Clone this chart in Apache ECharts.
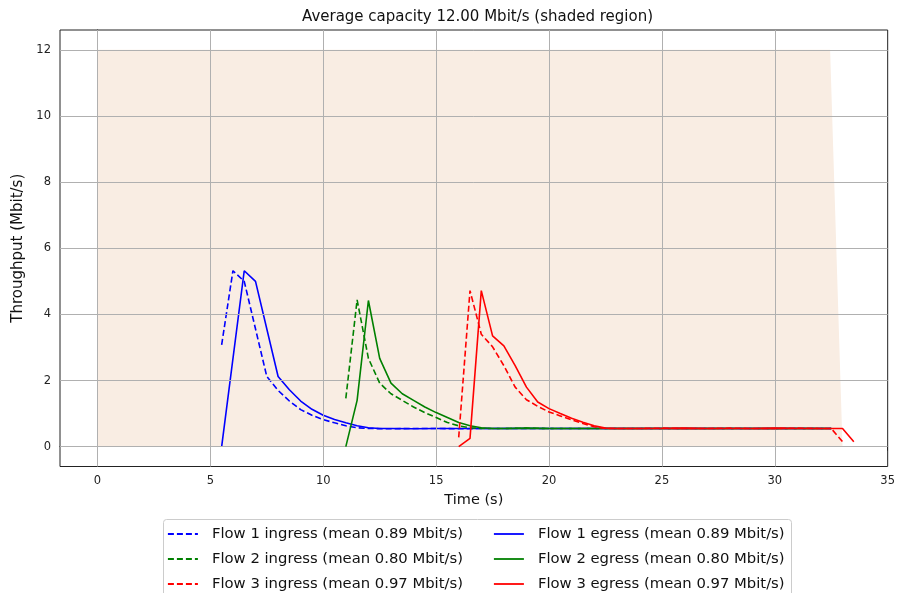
<!DOCTYPE html>
<html>
<head>
<meta charset="utf-8">
<script src="https://cdn.jsdelivr.net/npm/echarts@6/dist/echarts.min.js"></script>
<style>html,body{margin:0;padding:0;background:#fff;}#c{width:898px;height:593px;}</style>
</head>
<body>
<div id="c"></div>
<script>
const titleText = 'Average capacity 12.00 Mbit/s (shaded region)';
const xName = 'Time (s)';
const yName = 'Throughput (Mbit/s)';

const capT = [0, 32.45, 33.0];
const capV = [12, 12, 0];

const f1InT = [5.5, 6.0, 6.5, 7.5, 8.0, 8.5, 9.0, 9.5, 10.0, 10.5, 11.0, 11.5, 12.0, 13, 14, 15, 16, 17, 18, 19, 20, 21, 22, 23, 24, 25, 26, 27, 28, 29, 30, 31, 32, 32.5];
const f1InV = [3.08, 5.32, 5.0, 2.12, 1.7, 1.38, 1.12, 0.95, 0.82, 0.72, 0.63, 0.57, 0.55, 0.54, 0.55, 0.55, 0.54, 0.55, 0.55, 0.55, 0.55, 0.55, 0.55, 0.55, 0.55, 0.55, 0.55, 0.55, 0.55, 0.55, 0.55, 0.55, 0.55, 0.55];
const f1EgT = [5.5, 6.5, 7.0, 8.0, 8.5, 9.0, 9.5, 10.0, 10.5, 11.0, 11.5, 12.0, 12.5, 13, 14, 15, 16, 17, 18, 19, 20, 21, 22, 23, 24, 25, 26, 27, 28, 29, 30, 31, 32, 32.5];
const f1EgV = [0, 5.32, 5.0, 2.12, 1.72, 1.38, 1.13, 0.95, 0.82, 0.72, 0.63, 0.57, 0.55, 0.55, 0.54, 0.55, 0.55, 0.55, 0.55, 0.55, 0.55, 0.55, 0.55, 0.55, 0.55, 0.55, 0.55, 0.55, 0.55, 0.55, 0.55, 0.55, 0.55, 0.55];

const f2InT = [11.0, 11.5, 12.0, 12.5, 13.0, 13.5, 14.0, 14.5, 15.0, 15.5, 16.0, 16.5, 17.0, 18, 19, 20, 21, 22, 23, 24, 25, 26, 27, 28, 29, 30, 31, 32, 32.5];
const f2InV = [1.46, 4.44, 2.67, 1.92, 1.6, 1.4, 1.2, 1.03, 0.88, 0.73, 0.63, 0.57, 0.55, 0.55, 0.56, 0.55, 0.55, 0.55, 0.55, 0.55, 0.55, 0.55, 0.55, 0.55, 0.55, 0.55, 0.55, 0.55, 0.55];
const f2EgT = [11.0, 11.5, 12.0, 12.5, 13.0, 13.5, 14.0, 14.5, 15.0, 15.5, 16.0, 16.5, 17.0, 17.5, 18, 19, 20, 21, 22, 23, 24, 25, 26, 27, 28, 29, 30, 31, 32, 32.5];
const f2EgV = [0, 1.4, 4.42, 2.67, 1.92, 1.6, 1.4, 1.2, 1.03, 0.88, 0.73, 0.63, 0.57, 0.55, 0.55, 0.56, 0.55, 0.55, 0.55, 0.55, 0.55, 0.55, 0.55, 0.55, 0.55, 0.55, 0.55, 0.55, 0.55, 0.55];

const f3InT = [16.0, 16.5, 17.0, 17.5, 18.0, 18.5, 19.0, 19.5, 20.0, 20.5, 21.0, 21.5, 22.0, 22.5, 23, 24, 25, 26, 27, 28, 29, 30, 31, 32, 32.5, 33.0];
const f3InV = [0.28, 4.72, 3.4, 3.02, 2.45, 1.8, 1.42, 1.22, 1.05, 0.93, 0.81, 0.7, 0.6, 0.55, 0.55, 0.55, 0.56, 0.55, 0.55, 0.56, 0.55, 0.55, 0.56, 0.55, 0.55, 0.15];
const f3EgT = [16.0, 16.5, 17.0, 17.5, 18.0, 18.5, 19.0, 19.5, 20.0, 20.5, 21.0, 21.5, 22.0, 22.5, 23, 24, 25, 26, 27, 28, 29, 30, 31, 32, 33.0, 33.5];
const f3EgV = [0, 0.25, 4.72, 3.35, 3.05, 2.45, 1.8, 1.35, 1.15, 1.0, 0.86, 0.74, 0.63, 0.56, 0.55, 0.55, 0.55, 0.56, 0.55, 0.55, 0.55, 0.56, 0.55, 0.55, 0.55, 0.15];

const ingressNames = ['Flow 1 ingress (mean 0.89 Mbit/s)', 'Flow 2 ingress (mean 0.80 Mbit/s)', 'Flow 3 ingress (mean 0.97 Mbit/s)'];
const egressNames = ['Flow 1 egress (mean 0.89 Mbit/s)', 'Flow 2 egress (mean 0.80 Mbit/s)', 'Flow 3 egress (mean 0.97 Mbit/s)'];
const flowColors = ['#0000ff', '#008000', '#ff0000'];

const xTickLabels = ['0', '5', '10', '15', '20', '25', '30', '35'];
const yTickLabels = ['0', '2', '4', '6', '8', '10', '12'];

function pairs(t, v) { return t.map((x, i) => [x, v[i]]); }

const xTickVals = xTickLabels.map(Number);
const yTickVals = yTickLabels.map(Number);

const FONT = 'DejaVu Sans';
const GRID_COLOR = '#b0b0b0';
const chart = echarts.init(document.getElementById('c'), null, { renderer: 'canvas' });

const ingressData = [pairs(f1InT, f1InV), pairs(f2InT, f2InV), pairs(f3InT, f3InV)];
const egressData = [pairs(f1EgT, f1EgV), pairs(f2EgT, f2EgV), pairs(f3EgT, f3EgV)];

const gridLines = xTickVals.filter(v => v < 35).map(v => ({ xAxis: v })).concat(yTickVals.map(v => ({ yAxis: v })));

const series = [{
  name: 'capacity', type: 'line', data: pairs(capT, capV), symbol: 'none',
  lineStyle: { width: 0 }, areaStyle: { color: '#f9ede3', opacity: 1 }, silent: true, z: 1,
  markLine: {
    silent: true, symbol: ['none', 'none'], label: { show: false }, animation: false,
    lineStyle: { color: GRID_COLOR, width: 1, type: 'solid' },
    emphasis: { disabled: true },
    data: gridLines
  }
}];
for (let i = 0; i < 3; i++) {
  series.push({
    name: ingressNames[i], type: 'line', data: ingressData[i], symbol: 'none', showSymbol: false,
    lineStyle: { color: flowColors[i], width: 1.6, type: [6, 3] }, itemStyle: { color: flowColors[i] }, z: 3 + 2 * i
  });
  series.push({
    name: egressNames[i], type: 'line', data: egressData[i], symbol: 'none', showSymbol: false,
    lineStyle: { color: flowColors[i], width: 1.6, type: 'solid' }, itemStyle: { color: flowColors[i] }, z: 4 + 2 * i
  });
}

function makeLegend(left, names) {
  return {
    orient: 'vertical', left: left, top: 526, padding: 0,
    itemWidth: 30, itemHeight: 12, itemGap: 9,
    itemStyle: { opacity: 0 },
    lineStyle: { width: 1.8 },
    textStyle: { fontFamily: FONT, fontSize: 14.8, color: '#111', lineHeight: 16, padding: [0, 0, 0, 9] },
    data: names
  };
}

const option = {
  animation: false,
  backgroundColor: '#fff',
  textStyle: { fontFamily: FONT },
  title: {
    text: titleText, left: 297, top: 5,
    textStyle: { fontFamily: FONT, fontSize: 15, fontWeight: 'normal', color: '#111' }
  },
  grid: { left: 60, right: 7, top: 30, bottom: 126.5, show: true, borderColor: '#222', borderWidth: 1, backgroundColor: '#fff' },
  xAxis: {
    type: 'value', min: -1.66, max: 35,
    name: xName, nameLocation: 'middle', nameGap: 24,
    nameTextStyle: { fontFamily: FONT, fontSize: 14.5, color: '#111' },
    axisLine: { show: true, lineStyle: { color: '#222', width: 1 } },
    axisTick: { show: true, inside: false, length: 4, lineStyle: { color: '#222' }, customValues: xTickVals },
    axisLabel: { margin: 9, fontFamily: FONT, fontSize: 11.5, color: '#222', customValues: xTickVals },
    splitLine: { show: false }
  },
  yAxis: {
    type: 'value', min: -0.6, max: 12.6,
    name: yName, nameLocation: 'middle', nameGap: 28, nameRotate: 90,
    nameTextStyle: { fontFamily: FONT, fontSize: 15, color: '#111' },
    axisLine: { show: true, lineStyle: { color: '#222', width: 1 } },
    axisTick: { show: true, inside: false, length: 4, lineStyle: { color: '#222' }, customValues: yTickVals },
    axisLabel: { margin: 9, fontFamily: FONT, fontSize: 11.5, color: '#222', customValues: yTickVals },
    splitLine: { show: false }
  },
  legend: [makeLegend(167, ingressNames), makeLegend(493, egressNames)],
  graphic: [{
    type: 'rect', left: 163, top: 519, z: -1, silent: true,
    shape: { width: 628, height: 80, r: 3 },
    style: { fill: '#fff', stroke: '#cccccc', lineWidth: 1 }
  }],
  series: series
};
chart.setOption(option);
</script>
</body>
</html>
